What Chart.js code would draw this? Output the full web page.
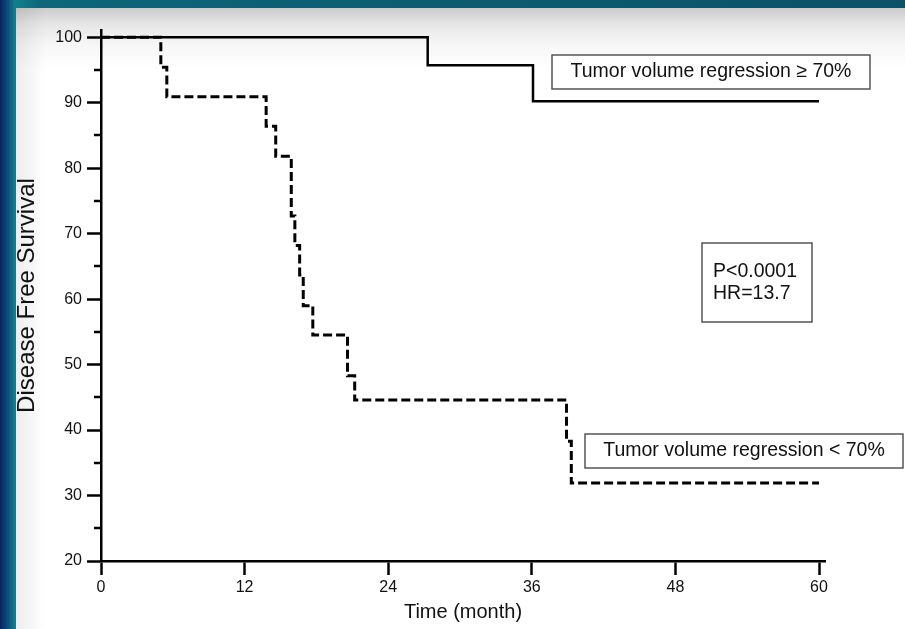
<!DOCTYPE html>
<html>
<head>
<meta charset="utf-8">
<script src="https://cdn.jsdelivr.net/npm/chart.js@4.4.1/dist/chart.umd.min.js"></script>
<style>
    html, body { margin: 0; padding: 0; background: #0b4d66; }
    #frame {
        position: relative;
        width: 905px;
        height: 629px;
        overflow: hidden;
        background: linear-gradient(to right, #0a2461 0px, #0c4a78 7px, #12808c 15px, #0d6679 40px, #0b5169 100%);
    }
    #paper {
        position: absolute;
        left: 16px; top: 8px; right: 0; bottom: 0;
        background: linear-gradient(to bottom, #cbcbcb 0px, #e6e6e6 16px, #f6f6f6 36px, #ffffff 60px);
    }
    #paper::before {
        content: '';
        position: absolute;
        left: 0; top: 0; bottom: 0; width: 30px;
        background: linear-gradient(to right, rgba(0, 0, 0, 0.07), rgba(0, 0, 0, 0));
    }
    #survivalChart { position: absolute; left: 0; top: 0; }
</style>
</head>
<body>
<div id="frame">
    <div id="paper"></div>
    <canvas id="survivalChart" width="905" height="629"></canvas>
</div>
<script>
// Axis ticks
const timeTicks = [0, 12, 24, 36, 48, 60];
const survivalTicks = [20, 30, 40, 50, 60, 70, 80, 90, 100];
const survivalMinorTicks = [25, 35, 45, 55, 65, 75, 85, 95];

// Tumor volume regression >= 70% (solid)
const highMonths   = [0, 27.3, 36.1, 60];
const highSurvival = [100, 95.7, 90.2, 90.2];

// Tumor volume regression < 70% (dashed)
const lowMonths   = [0, 5.0, 5.5, 13.8, 14.6, 15.9, 16.2, 16.6, 16.9, 17.7, 20.6, 21.2, 38.9, 39.3, 60];
const lowSurvival = [100, 95.4, 90.9, 86.4, 81.8, 72.7, 68.2, 63.7, 59.0, 54.5, 48.3, 44.6, 38.3, 31.9, 31.9];

const boxTexts = {
    high: 'Tumor volume regression \u2265 70%',
    low: 'Tumor volume regression < 70%',
    stats: ['P<0.0001', 'HR=13.7']
};

const FONT = "'Liberation Sans', Arial, Helvetica, sans-serif";

function toPoints(xs, ys) {
    return xs.map((x, i) => ({ x: x, y: ys[i] }));
}

// short unlabeled ticks between the major ones on the y axis
const minorTicksPlugin = {
    id: 'minorTicks',
    afterDraw(chart) {
        const y = chart.scales.y;
        const ctx = chart.ctx;
        const left = chart.chartArea.left;
        ctx.save();
        ctx.strokeStyle = '#000';
        ctx.lineWidth = 2.5;
        survivalMinorTicks.forEach(v => {
            const py = Math.round(y.getPixelForValue(v));
            ctx.beginPath();
            ctx.moveTo(left, py);
            ctx.lineTo(left - 7, py);
            ctx.stroke();
        });
        ctx.restore();
    }
};

// framed text labels on the plot
const textBoxPlugin = {
    id: 'textBoxes',
    afterDatasetsDraw(chart) {
        const ctx = chart.ctx;
        const boxes = [
            { x1: 552, y1: 55, x2: 870, y2: 89, lines: [boxTexts.high], align: 'center' },
            { x1: 702, y1: 243, x2: 812, y2: 322, lines: boxTexts.stats, align: 'left' },
            { x1: 585, y1: 434, x2: 903, y2: 468, lines: [boxTexts.low], align: 'center' }
        ];
        ctx.save();
        boxes.forEach(b => {
            ctx.fillStyle = '#ffffff';
            ctx.fillRect(b.x1, b.y1, b.x2 - b.x1, b.y2 - b.y1);
            ctx.strokeStyle = '#555';
            ctx.lineWidth = 1.5;
            ctx.strokeRect(b.x1, b.y1, b.x2 - b.x1, b.y2 - b.y1);
            ctx.fillStyle = '#111';
            ctx.font = '19.5px ' + FONT;
            ctx.textBaseline = 'middle';
            const lh = 22;
            const cy = (b.y1 + b.y2) / 2 - (b.lines.length - 1) * lh / 2;
            b.lines.forEach((t, i) => {
                if (b.align === 'center') {
                    ctx.textAlign = 'center';
                    ctx.fillText(t, (b.x1 + b.x2) / 2, cy + i * lh);
                } else {
                    ctx.textAlign = 'left';
                    ctx.fillText(t, b.x1 + 11, cy + i * lh);
                }
            });
        });
        ctx.restore();
    }
};

const ctx = document.getElementById('survivalChart');

new Chart(ctx, {
    type: 'line',
    data: {
        datasets: [
            {
                label: boxTexts.high,
                data: toPoints(highMonths, highSurvival),
                stepped: 'before',
                borderColor: '#000',
                borderWidth: 2.5,
                pointRadius: 0,
                fill: false
            },
            {
                label: boxTexts.low,
                data: toPoints(lowMonths, lowSurvival),
                stepped: 'before',
                borderColor: '#000',
                borderWidth: 3,
                borderDash: [9, 4],
                pointRadius: 0,
                fill: false
            }
        ]
    },
    options: {
        responsive: false,
        devicePixelRatio: 1,
        animation: false,
        layout: { padding: { left: 0, top: 30, right: 80, bottom: 0 } },
        scales: {
            x: {
                type: 'linear',
                min: 0,
                max: 60.5,
                afterBuildTicks: scale => { scale.ticks = timeTicks.map(v => ({ value: v })); },
                afterFit: scale => { scale.height = 68; },
                grid: {
                    drawOnChartArea: false,
                    drawTicks: true,
                    tickLength: 14,
                    tickWidth: 2.5,
                    tickColor: '#000'
                },
                border: { display: true, color: '#000', width: 2.5 },
                ticks: {
                    color: '#111',
                    padding: 3,
                    maxRotation: 0,
                    font: { family: FONT, size: 16 }
                },
                title: {
                    display: true,
                    text: 'Time (month)',
                    color: '#111',
                    padding: { top: 0, bottom: 5 },
                    font: { family: FONT, size: 20 }
                }
            },
            y: {
                type: 'linear',
                min: 20,
                max: 101.1,
                afterBuildTicks: scale => { scale.ticks = survivalTicks.map(v => ({ value: v })); },
                afterFit: scale => { scale.width = 101; },
                grid: {
                    drawOnChartArea: false,
                    drawTicks: true,
                    tickLength: 14,
                    tickWidth: 2.5,
                    tickColor: '#000'
                },
                border: { display: true, color: '#000', width: 2.5 },
                ticks: {
                    color: '#111',
                    padding: 5,
                    font: { family: FONT, size: 16 }
                },
                title: {
                    display: true,
                    text: 'Disease Free Survival',
                    color: '#111',
                    padding: { top: 13, bottom: 0 },
                    font: { family: FONT, size: 24 }
                }
            }
        },
        plugins: {
            legend: { display: false },
            tooltip: { enabled: false }
        }
    },
    plugins: [minorTicksPlugin, textBoxPlugin]
});
</script>
</body>
</html>
